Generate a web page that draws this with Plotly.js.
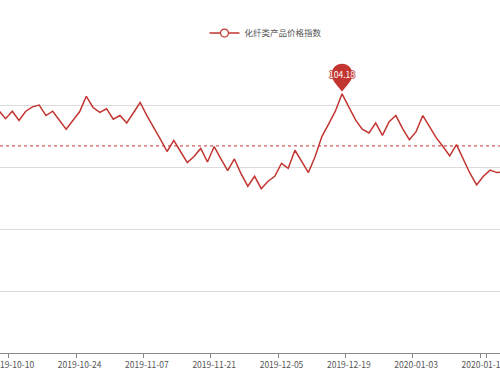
<!DOCTYPE html>
<html><head><meta charset="utf-8">
<script src="https://cdn.plot.ly/plotly-3.0.1.min.js"></script>
<style>html,body{margin:0;padding:0;background:#fff}#chart{width:500px;height:375px}</style>
</head><body><div id="chart"></div>
<script>
const seriesName = '化纤类产品价格指数';
const dates = [
 '2019-10-08','2019-10-09','2019-10-10','2019-10-11','2019-10-14','2019-10-15','2019-10-16','2019-10-17','2019-10-18',
 '2019-10-21','2019-10-22','2019-10-23','2019-10-24','2019-10-25','2019-10-28','2019-10-29','2019-10-30','2019-10-31',
 '2019-11-01','2019-11-04','2019-11-05','2019-11-06','2019-11-07','2019-11-08','2019-11-11','2019-11-12','2019-11-13',
 '2019-11-14','2019-11-15','2019-11-18','2019-11-19','2019-11-20','2019-11-21','2019-11-22','2019-11-25','2019-11-26',
 '2019-11-27','2019-11-28','2019-11-29','2019-12-02','2019-12-03','2019-12-04','2019-12-05','2019-12-06','2019-12-09',
 '2019-12-10','2019-12-11','2019-12-12','2019-12-13','2019-12-16','2019-12-17','2019-12-18','2019-12-19','2019-12-20',
 '2019-12-23','2019-12-24','2019-12-25','2019-12-26','2019-12-27','2019-12-30','2019-12-31','2020-01-02','2020-01-03',
 '2020-01-06','2020-01-07','2020-01-08','2020-01-09','2020-01-10','2020-01-13','2020-01-14','2020-01-15','2020-01-16',
 '2020-01-17','2020-01-20','2020-01-21','2020-01-22'
];
const indexValues = [
 103.91, 103.78, 103.90, 103.75, 103.90, 103.97, 104.00, 103.83, 103.90, 103.76, 103.61, 103.75,
 103.89, 104.14, 103.96, 103.88, 103.94, 103.77, 103.83, 103.71, 103.87, 104.04,
 103.83, 103.65, 103.45, 103.25, 103.43, 103.25, 103.07, 103.17, 103.30, 103.08,
 103.33, 103.13, 102.94, 103.13, 102.89, 102.69, 102.85, 102.65, 102.77, 102.85,
 103.06, 102.98, 103.27, 103.09, 102.91, 103.17, 103.49, 103.69, 103.90, 104.18,
 103.98, 103.76, 103.61, 103.55, 103.71, 103.51, 103.73, 103.83, 103.62, 103.44,
 103.57, 103.83, 103.65, 103.47, 103.33, 103.18, 103.36, 103.12, 102.90, 102.71,
 102.85, 102.95, 102.91, 102.92
];
const averageIndex = 103.34;
const tickDates = ['2019-10-10','2019-10-24','2019-11-07','2019-11-21','2019-12-05','2019-12-19','2020-01-03','2020-01-17'];
const yMin = 100, yMax = 105, yStep = 1;

const red = '#c23531';
let peakIdx = 0;
indexValues.forEach((v, i) => { if (v > indexValues[peakIdx]) peakIdx = i; });
const peakValue = indexValues[peakIdx];

const traces = [
  {
    type: 'scatter', mode: 'lines', x: dates, y: indexValues, name: seriesName,
    line: {color: red, width: 1.5}, showlegend: false, hoverinfo: 'skip'
  },
  {
    type: 'scatter', mode: 'lines+markers', x: [null], y: [null], name: seriesName,
    line: {color: red, width: 1.5},
    marker: {symbol: 'circle', size: 8, color: '#fff', line: {color: red, width: 1.2}},
    showlegend: true, hoverinfo: 'skip'
  }
];

const pinPath = 'M 0 2 C -2 6 -10.5 12 -10.5 19.5 C -10.5 25.3 -5.8 30 0 30 C 5.8 30 10.5 25.3 10.5 19.5 C 10.5 12 2 6 0 2 Z';
const haloShadow = '1px 0 0 ' + red + ', -1px 0 0 ' + red + ', 0 1px 0 ' + red + ', 0 -1px 0 ' + red;

const layout = {
  width: 500, height: 375,
  margin: {l: 0, r: 0, t: 43, b: 22, pad: 0, autoexpand: false},
  paper_bgcolor: '#fff', plot_bgcolor: '#fff',
  font: {family: '"Noto Sans CJK SC", "Noto Sans", sans-serif', size: 8.5, color: '#555'},
  showlegend: true,
  legend: {
    orientation: 'h', x: 0.409, xanchor: 'left', y: 1.032, yanchor: 'middle',
    font: {size: 8.5, color: '#555'}, bgcolor: 'rgba(0,0,0,0)'
  },
  xaxis: {
    type: 'category', range: [0.172, 74.47], autorange: false,
    tickmode: 'array', tickvals: tickDates, ticktext: tickDates, tickangle: 0,
    ticks: 'outside', ticklen: 4, tickcolor: '#888', tickwidth: 1, tickson: 'boundaries',
    ticklabelstandoff: 4,
    showline: true, linecolor: '#888', linewidth: 1,
    showgrid: false, zeroline: false, automargin: false,
    tickfont: {size: 8.5, color: '#555'}
  },
  yaxis: {
    range: [yMin, yMax], autorange: false, tickmode: 'linear', tick0: yMin, dtick: yStep,
    showgrid: true, gridcolor: '#dcdcdc', gridwidth: 1,
    showticklabels: false, ticks: '', zeroline: false, showline: false, automargin: false
  },
  shapes: [
    {type: 'line', xref: 'paper', x0: 0, x1: 1, yref: 'y', y0: averageIndex, y1: averageIndex,
     line: {color: red, width: 1, dash: '3px,3px'}},
    {type: 'path', xref: 'x', yref: 'y', xsizemode: 'pixel', ysizemode: 'pixel',
     xanchor: peakIdx, yanchor: peakValue, path: pinPath, fillcolor: red, line: {width: 0}}
  ],
  annotations: [
    {x: peakIdx, y: peakValue, xref: 'x', yref: 'y', text: String(peakValue), showarrow: false,
     yshift: 19.5, font: {size: 8.5, color: '#fff', shadow: haloShadow}}
  ]
};

Plotly.newPlot('chart', traces, layout, {staticPlot: true, displayModeBar: false});
</script>
</body></html>
